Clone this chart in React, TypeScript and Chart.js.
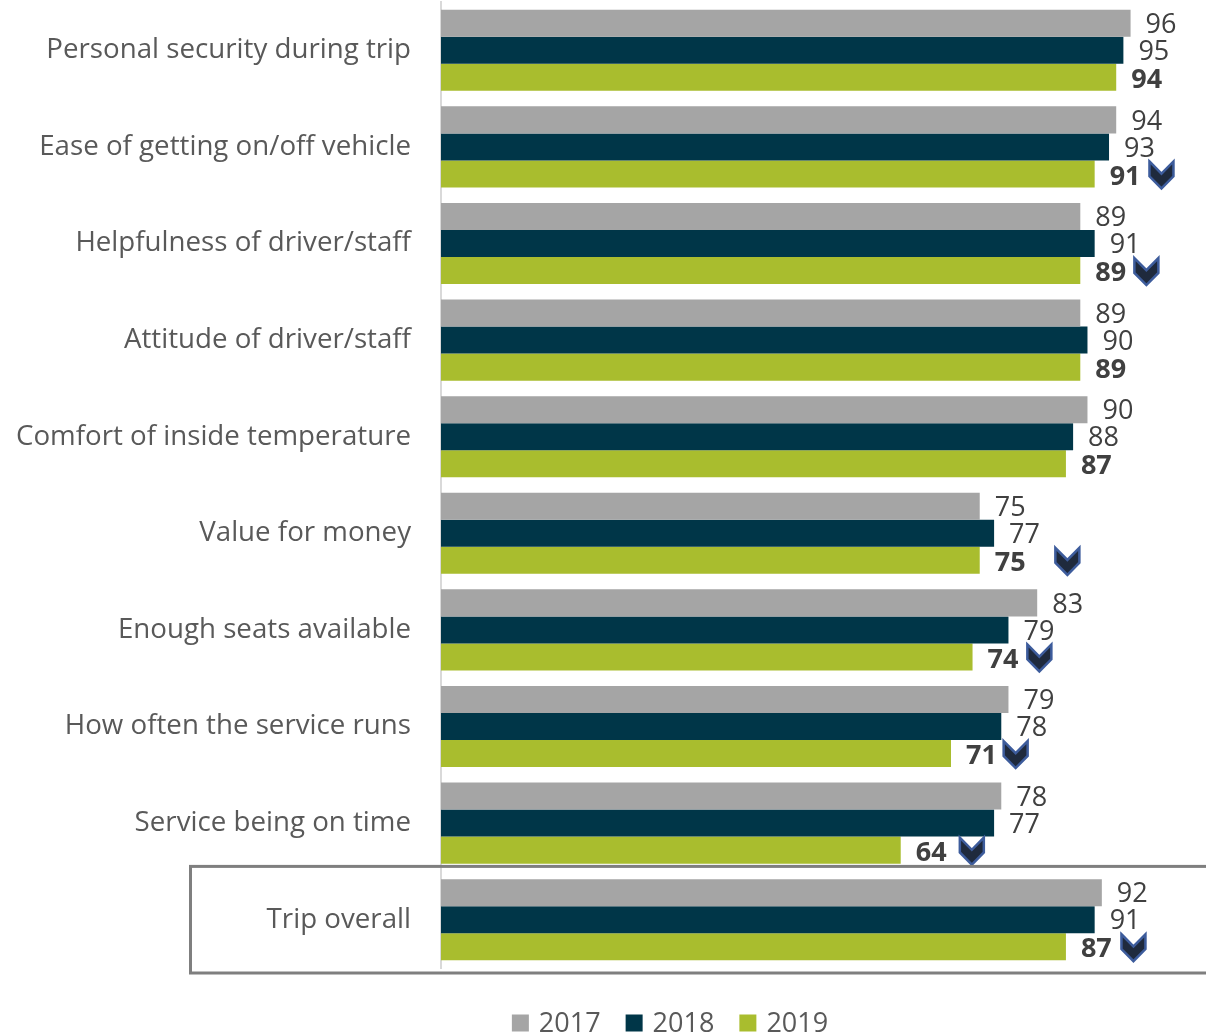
import React, { useEffect, useRef } from "react";
import { Chart, registerables } from "chart.js";

Chart.register(...registerables);

const categories = [
  "Personal security during trip",
  "Ease of getting on/off vehicle",
  "Helpfulness of driver/staff",
  "Attitude of driver/staff",
  "Comfort of inside temperature",
  "Value for money",
  "Enough seats available",
  "How often the service runs",
  "Service being on time",
  "Trip overall",
];
const seriesLabels = ["2017", "2018", "2019"];
const values2017 = [96, 94, 89, 89, 90, 75, 83, 79, 78, 92];
const values2018 = [95, 93, 91, 90, 88, 77, 79, 78, 77, 91];
const values2019 = [94, 91, 89, 89, 87, 75, 74, 71, 64, 87];
// position (in value units) of the "significant decrease" chevron on the 2019 bar, null = none
const downArrowAt: (number | null)[] = [null, 100.3, 98.2, null, null, 87.2, 83.3, 80.0, 73.9, 96.4];

const COLORS = ["#a5a5a5", "#003648", "#a9bd2e"];
const FONT = "'Open Sans', 'DejaVu Sans', sans-serif";

const labelPlugin = {
  id: "valueLabels",
  afterDatasetsDraw(chart: any) {
    const ctx = chart.ctx;
    ctx.save();
    ctx.textBaseline = "middle";
    ctx.textAlign = "left";
    chart.data.datasets.forEach((ds: any, di: number) => {
      const meta = chart.getDatasetMeta(di);
      ctx.font = di === 2 ? "bold 27px " + FONT : "27px " + FONT;
      ctx.fillStyle = "#404040";
      meta.data.forEach((bar: any, i: number) => {
        ctx.fillText(String(ds.data[i]), bar.x + 15, bar.y + (di === 2 ? 3 : 2));
      });
    });
    // chevrons
    const xs = chart.scales.x;
    const meta2 = chart.getDatasetMeta(2);
    downArrowAt.forEach((v, i) => {
      if (v == null) return;
      const cx = xs.getPixelForValue(v);
      const cy = meta2.data[i].y + 1;
      const w = 24, h = 27;
      const l = cx - w / 2, t = cy - h / 2;
      ctx.beginPath();
      ctx.moveTo(l, t);
      ctx.lineTo(cx, t + h * 0.45);
      ctx.lineTo(l + w, t);
      ctx.lineTo(l + w, t + h * 0.55);
      ctx.lineTo(cx, t + h);
      ctx.lineTo(l, t + h * 0.55);
      ctx.closePath();
      ctx.fillStyle = "#1f2a3d";
      ctx.fill();
      ctx.lineWidth = 2.5;
      ctx.strokeStyle = "#3d5c9c";
      ctx.lineJoin = "miter";
      ctx.stroke();
    });
    ctx.restore();
  },
};

const boxPlugin = {
  id: "overallBox",
  afterDraw(chart: any) {
    const ys = chart.scales.y;
    const idx = categories.length - 1;
    const band = ys.getPixelForValue(1) - ys.getPixelForValue(0);
    const c = ys.getPixelForValue(idx);
    const ctx = chart.ctx;
    ctx.save();
    ctx.strokeStyle = "#7f7f7f";
    ctx.lineWidth = 3;
    ctx.strokeRect(190.5, c - band / 2 - 5, chart.width + 20, band + 10);
    ctx.restore();
  },
};

const legendPlugin = {
  id: "customLegend",
  afterDraw(chart: any) {
    const ctx = chart.ctx;
    ctx.save();
    ctx.font = "27px " + FONT;
    ctx.textBaseline = "middle";
    ctx.textAlign = "left";
    const box = 17, gap = 10, itemGap = 25;
    const widths = seriesLabels.map((s) => box + gap + ctx.measureText(s).width);
    const total = widths.reduce((a, b) => a + b, 0) + itemGap * (widths.length - 1);
    let x = 670 - total / 2;
    const y = 1023;
    seriesLabels.forEach((s, i) => {
      ctx.fillStyle = COLORS[i];
      ctx.fillRect(x, y - box / 2, box, box);
      ctx.fillStyle = "#595959";
      ctx.fillText(s, x + box + gap, y + 1);
      x += widths[i] + itemGap;
    });
    ctx.restore();
  },
};

export default function App() {
  const ref = useRef<HTMLCanvasElement>(null);
  useEffect(() => {
    document.body.style.margin = "0";
    document.body.style.overflow = "hidden";
    const chart = new Chart(ref.current as HTMLCanvasElement, {
      type: "bar",
      data: {
        labels: categories,
        datasets: [
          { label: seriesLabels[0], data: values2017, backgroundColor: COLORS[0] },
          { label: seriesLabels[1], data: values2018, backgroundColor: COLORS[1] },
          { label: seriesLabels[2], data: values2019, backgroundColor: COLORS[2] },
        ],
      },
      options: {
        indexAxis: "y",
        animation: false,
        responsive: false,
        layout: { padding: { top: 2, bottom: 82, left: 0, right: 0 } },
        datasets: { bar: { barPercentage: 1, categoryPercentage: 0.84 } },
        plugins: { legend: { display: false }, tooltip: { enabled: false } },
        scales: {
          x: { display: false, min: 0, max: 106.5 },
          y: {
            grid: { display: false, drawTicks: false },
            border: { display: true, color: "#d9d9d9", width: 2 },
            ticks: { padding: 30, color: "#595959", font: { family: FONT, size: 27.7 } },
            afterFit(scale: any) {
              scale.width = 441;
              scale.paddingTop = 0;
              scale.paddingBottom = 0;
            },
          },
        },
      } as any,
      plugins: [boxPlugin, labelPlugin, legendPlugin],
    });
    return () => chart.destroy();
  }, []);
  return (
    <div style={{ position: "fixed", left: 0, top: 0, width: 1206, height: 1050 }}>
      <canvas ref={ref} width={1206} height={1050} />
    </div>
  );
}
